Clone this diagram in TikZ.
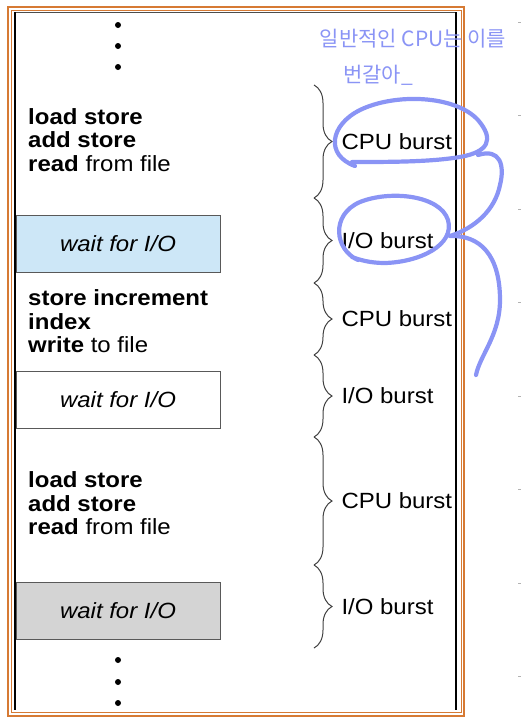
\documentclass[tikz,border=0pt]{standalone}
\usepackage{fontspec}
\setmainfont{Liberation Sans}[FakeStretch=1.09]
\newfontfamily\hangul{Noto Sans CJK KR}
\usetikzlibrary{decorations.pathreplacing}
\definecolor{framecol}{RGB}{214,122,52}
\definecolor{waitblue}{RGB}{205,231,247}
\definecolor{waitgray}{RGB}{212,212,212}
\definecolor{handcol}{RGB}{138,148,245}
\begin{document}
\begin{tikzpicture}
[x=1pt,y=-1pt,
 codetext/.style={anchor=west,align=left,inner sep=0pt,font=\fontsize{22}{23.5}\selectfont},
 waitbox/.style={draw=gray!70!black,line width=0.8pt,minimum width=204pt,minimum height=57pt,inner sep=0pt,font=\fontsize{22}{24}\selectfont\itshape},
 burstbrace/.style={decorate,decoration={brace,amplitude=18pt},draw=black!75,line width=1pt},
 burstlabel/.style={midway,anchor=west,xshift=27pt,inner sep=0pt,font=\fontsize{22}{24}\selectfont},
 handstroke/.style={draw=handcol,line width=4.2pt,line cap=round,line join=round},
 handtext/.style={text=handcol,inner sep=0pt,font=\hangul\fontsize{21}{22}\selectfont}]
\useasboundingbox (0,0) rectangle (522,724);
%% page frame
\draw[framecol,line width=1.3pt] (8,7) rectangle (464,716);
\draw[framecol,line width=1pt] (11,10) rectangle (461,712);
\draw[line width=0.6pt,black!70] (15,12.5) -- (456,12.5);
\draw[line width=2.4pt] (15,12) -- (15,710);
\draw[line width=2.6pt] (456,12) -- (456,710);
\foreach \y in {22,115,209,302,396,489,583,676}
{
  \fill[black!30] (518,\y) rectangle (520.5,\y+1.2);
}
%% elided program parts
\foreach \y in {25,46,67,660,682,703}
{
  \fill (118,\y) circle (3pt);
}
%% program text and waits
\node[codetext] (cpu1) at (28,140) {\textbf{load store}\\\textbf{add store}\\\textbf{read} from file};
\node[waitbox,fill=waitblue] (io1) at (118,244) {wait for I/O};
\node[codetext] (cpu2) at (28,321.5) {\textbf{store increment}\\\textbf{index}\\\textbf{write} to file};
\node[waitbox,fill=white] (io2) at (118,399.5) {wait for I/O};
\node[codetext] (cpu3) at (28,503.5) {\textbf{load store}\\\textbf{add store}\\\textbf{read} from file};
\node[waitbox,fill=waitgray] (io3) at (118,610.5) {wait for I/O};
%% bursts
\foreach \y [count=\i from 0] in {85,198,283,355,437,565,648}
{
  \coordinate (b\i) at (314,\y);
}
\foreach \i/\j/\lab in {0/1/CPU burst, 1/2/{I/O burst}, 2/3/CPU burst, 3/4/{I/O burst}, 4/5/CPU burst, 5/6/{I/O burst}}
{
  \draw[burstbrace] (b\i) -- (b\j) node[burstlabel] (lab\i) {\lab};
}
%% handwritten note
\node[handtext] (note1) at (413,39) {일반적인 CPU는 이를};
\node[handtext] (note2) at (378,75) {번갈아\_};
\draw[handstroke] (355,166) .. controls (325,155) and (330,125) .. (360,110) .. controls (395,93) and (455,95) .. (478,120) .. controls (495,140) and (488,152) .. (460,157) .. controls (430,162) and (390,162) .. (352,162);
\draw[handstroke] (478,155) .. controls (500,148) and (505,165) .. (500,185) .. controls (495,210) and (475,228) .. (450,236);
\draw[handstroke] (358,260) .. controls (335,250) and (330,215) .. (360,202) .. controls (390,190) and (440,195) .. (448,220) .. controls (455,245) and (420,262) .. (385,263) .. controls (370,263) and (360,260) .. (352,257);
\draw[handstroke] (450,236) .. controls (480,235) and (500,255) .. (500,300) .. controls (500,335) and (480,355) .. (476,375);
\end{tikzpicture}
\end{document}
